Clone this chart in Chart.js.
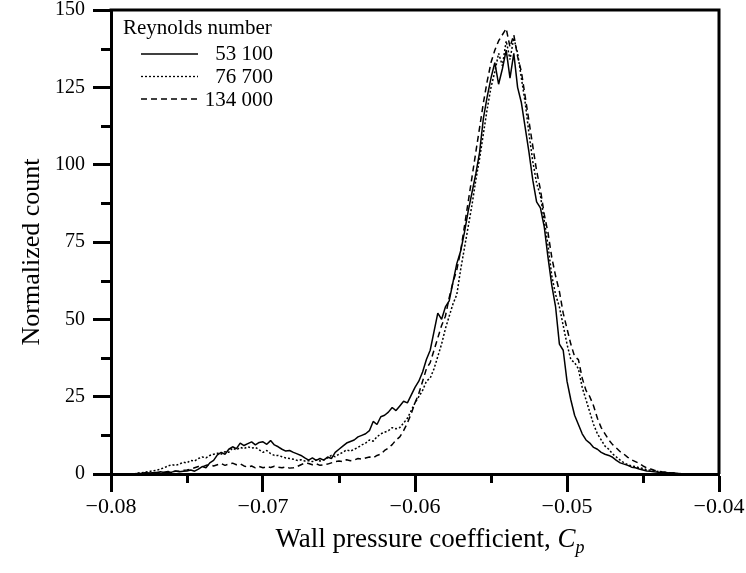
<!DOCTYPE html>
<html>
<head>
<meta charset="utf-8">
<title>Wall pressure coefficient histogram</title>
<script src="https://cdn.jsdelivr.net/npm/chart.js@4.4.1/dist/chart.umd.min.js"></script>
<style>
  html, body { margin: 0; padding: 0; background: #fff; }
  canvas { display: block; }
</style>
</head>
<body>
<canvas id="cp-chart" width="746" height="573"></canvas>
<script>
// ---- data ----
// bin centres of the Cp histogram
const cp = [
  -0.0785, -0.07825,
  -0.078, -0.07775, -0.0775, -0.07725,
  -0.077, -0.07675, -0.0765, -0.07625,
  -0.076, -0.07575, -0.0755, -0.07525,
  -0.075, -0.07475, -0.0745, -0.07425,
  -0.074, -0.07375, -0.0735, -0.07325,
  -0.073, -0.07275, -0.0725, -0.07225,
  -0.072, -0.07175, -0.0715, -0.07125,
  -0.071, -0.07075, -0.0705, -0.07025,
  -0.070, -0.06975, -0.0695, -0.06925,
  -0.069, -0.06875, -0.0685, -0.06825,
  -0.068, -0.06775, -0.0675, -0.06725,
  -0.067, -0.06675, -0.0665, -0.06625,
  -0.066, -0.06575, -0.0655, -0.06525,
  -0.065, -0.06475, -0.0645, -0.06425,
  -0.064, -0.06375, -0.0635, -0.06325,
  -0.063, -0.06275, -0.0625, -0.06225,
  -0.062, -0.06175, -0.0615, -0.06125,
  -0.061, -0.06075, -0.0605, -0.06025,
  -0.060, -0.05975, -0.0595, -0.05925,
  -0.059, -0.05875, -0.0585, -0.05825,
  -0.058, -0.05775, -0.0575, -0.05725,
  -0.057, -0.05675, -0.0565, -0.05625,
  -0.056, -0.05575, -0.0555, -0.05525,
  -0.055, -0.05475, -0.0545, -0.05425,
  -0.054, -0.05375, -0.0535, -0.05325,
  -0.053, -0.05275, -0.0525, -0.05225,
  -0.052, -0.05175, -0.0515, -0.05125,
  -0.051, -0.05075, -0.0505, -0.05025,
  -0.050, -0.04975, -0.0495, -0.04925,
  -0.049, -0.04875, -0.0485, -0.04825,
  -0.048, -0.04775, -0.0475, -0.04725,
  -0.047, -0.04675, -0.0465, -0.04625,
  -0.046, -0.04575, -0.0455, -0.04525,
  -0.045, -0.04475, -0.0445, -0.04425,
  -0.044, -0.04375, -0.0435, -0.04325,
  -0.043, -0.04275, -0.0425
];

// normalized counts, Re = 53 100
const count53100 = [
  0, 0.2,
  0.2, 0.4, 0.3, 0.4,
  0.4, 0.7, 0.5, 0.6,
  0.6, 1.0, 0.7, 0.9,
  1.0, 1.3, 0.9, 1.6,
  2.4, 2.0, 3.6, 4.4,
  6.2, 7.0, 6.4, 8.0,
  8.8, 8.2, 10.0, 9.2,
  9.8, 10.4, 9.4, 10.2,
  10.4, 9.6, 10.8, 9.4,
  8.8, 8.0, 7.4, 7.6,
  7.0, 6.5, 6.0, 5.2,
  4.5, 5.2, 4.4, 5.0,
  4.5, 5.5, 5.0, 7.0,
  8.0, 9.0, 10.0, 10.5,
  11, 12, 12.5, 13,
  14, 17, 16, 18.5,
  19, 20, 21.5, 20.5,
  22, 23.5, 23, 25.5,
  28, 30, 33, 37,
  40, 46, 52, 50,
  54, 56, 62, 68,
  72, 78, 85, 91,
  97, 104, 115, 122,
  128, 133, 126, 131,
  137, 128, 136, 125,
  120, 112, 104, 95,
  88, 86, 80, 70,
  61, 54, 42, 40,
  30, 24, 19, 16,
  13, 11, 10, 8.6,
  8, 7, 6.4, 6,
  5.4, 4.4, 3.6, 3.2,
  2.8, 2.2, 2.0, 1.6,
  1.3, 1.0, 0.9, 0.7,
  0.6, 0.4, 0.5, 0.3,
  0.3, 0.2, 0.1
];

// normalized counts, Re = 76 700
const count76700 = [
  0, 0.3,
  0.4, 0.6, 0.8, 1.0,
  1.2, 1.6, 2.0, 2.6,
  3.0, 2.8, 3.2, 3.8,
  3.6, 4.4, 4.2, 5.0,
  5.5, 5.2, 6.0, 6.4,
  6.7, 6.4, 7.2, 7.0,
  8.4, 7.8, 8.6, 8.2,
  8.8, 8.4, 8.6, 7.8,
  7.0, 7.6, 6.6, 6.0,
  6.0, 5.6, 5.2, 5.0,
  4.8, 4.4, 4.6, 4.2,
  4.3, 4.0, 4.5, 4.2,
  4.6, 5.2, 6.0, 5.6,
  6.4, 7.0, 7.8, 7.4,
  8.0, 8.6, 9.4, 10.0,
  11.0, 10.6, 12.0, 13.0,
  13.5, 14.0, 15.0, 14.6,
  15.0, 16.5, 18.0, 20.5,
  23, 25, 27, 30,
  31, 34, 38, 42,
  47, 51, 55, 58,
  66, 73, 80, 87,
  95, 102, 110, 118,
  125, 130, 136, 132,
  140, 134, 141, 136,
  128, 120, 110, 101,
  94, 90, 82, 74,
  64, 58, 54, 48,
  42, 37, 36, 34,
  28, 24, 20, 16,
  13, 11, 9, 8,
  6.5, 5.5, 4.5, 3.6,
  3.0, 2.6, 2.4, 2.0,
  1.8, 1.4, 1.2, 1.0,
  0.8, 0.6, 0.5, 0.4,
  0.3, 0.2, 0.1
];

// normalized counts, Re = 134 000
const count134000 = [
  0, 0.1,
  0.2, 0.3, 0.2, 0.4,
  0.5, 0.4, 0.6, 0.8,
  0.7, 0.9, 1.0, 1.2,
  1.3, 1.6, 2.0, 2.4,
  2.3, 2.8, 3.0, 2.6,
  3.0, 3.4, 2.8, 3.2,
  3.5, 3.0, 3.3, 2.6,
  2.2, 2.6, 2.0, 2.4,
  2.0, 2.4, 2.1, 2.5,
  2.2, 2.0, 2.3, 1.9,
  2.0, 2.4, 3.0, 3.5,
  3.4, 3.0, 3.3, 2.8,
  3.0, 3.2, 3.6, 4.0,
  4.2, 4.0, 4.6, 4.3,
  4.5, 5.0, 4.8, 5.2,
  5.5, 5.2, 6.0, 6.4,
  7.6, 8.4, 9.5, 11.0,
  12.0, 14.0, 16.5, 19.5,
  23, 26, 30, 34,
  36, 40, 44, 48,
  51, 57, 62, 66,
  72, 80, 88, 96,
  104, 112, 120, 127,
  133, 137, 140, 142,
  144, 138, 142, 135,
  130, 122, 114, 106,
  98, 92, 84, 78,
  70, 64, 59, 52,
  47, 42, 38, 37,
  31, 27, 25, 22,
  18, 15, 13, 11,
  9.5, 8.4, 7.2, 6.4,
  5.4, 4.6, 4.0, 3.4,
  2.6, 2.0, 1.6, 1.2,
  0.9, 0.7, 0.6, 0.4,
  0.3, 0.2, 0.1
];

const reynolds = ['53 100', '76 700', '134 000'];
const legendTitle = 'Reynolds number';
const yTitle = 'Normalized count';
const xTitle = 'Wall pressure coefficient, ';

// ---- helpers ----
const SERIF = '"Liberation Serif", "Times New Roman", serif';
const toPoints = (ys) => cp.map((x, i) => ({ x, y: ys[i] }));
const isMajorX = (v) => Math.round(v * 200) % 2 === 0;
const isMajorY = (v) => Math.round(v * 2) % 50 === 0;
const minus = (s) => s.replace('-', '\u2212');

Chart.defaults.font.family = SERIF;
Chart.defaults.color = '#000';

const dashes = [[], [2, 2], [6, 4]];
const seriesCounts = [count53100, count76700, count134000];

const datasets = seriesCounts.map((ys, i) => ({
  label: reynolds[i],
  data: toPoints(ys),
  borderColor: '#000',
  borderWidth: 1.5,
  borderDash: dashes[i],
  borderJoinStyle: 'bevel',
  pointRadius: 0,
  tension: 0,
  fill: false
}));

// frame, short minor ticks, legend and axis titles
const decorations = {
  id: 'decorations',
  afterDraw(chart) {
    const { ctx, chartArea: a, scales } = chart;
    ctx.save();
    ctx.strokeStyle = '#000';
    ctx.fillStyle = '#000';

    // top and right frame edges
    ctx.lineWidth = 3;
    ctx.beginPath();
    ctx.moveTo(a.left - 1.5, a.top);
    ctx.lineTo(a.right, a.top);
    ctx.lineTo(a.right, a.bottom);
    ctx.stroke();

    // minor ticks
    ctx.lineWidth = 3;
    scales.x.ticks.forEach(t => {
      if (isMajorX(t.value)) return;
      const px = Math.round(scales.x.getPixelForValue(t.value)) + 0.5;
      ctx.beginPath();
      ctx.moveTo(px, a.bottom);
      ctx.lineTo(px, a.bottom + 9);
      ctx.stroke();
    });
    scales.y.ticks.forEach(t => {
      if (isMajorY(t.value)) return;
      const py = Math.round(scales.y.getPixelForValue(t.value)) + 0.5;
      ctx.beginPath();
      ctx.moveTo(a.left, py);
      ctx.lineTo(a.left - 10, py);
      ctx.stroke();
    });

    // legend
    ctx.font = '21px ' + SERIF;
    ctx.textBaseline = 'alphabetic';
    ctx.textAlign = 'left';
    ctx.fillText(legendTitle, a.left + 12, a.top + 24);
    chart.data.datasets.forEach((ds, i) => {
      const ly = a.top + 44 + i * 22.5;
      ctx.lineWidth = 1.3;
      ctx.setLineDash(ds.borderDash);
      ctx.beginPath();
      ctx.moveTo(a.left + 30, ly);
      ctx.lineTo(a.left + 87, ly);
      ctx.stroke();
      ctx.setLineDash([]);
      ctx.textAlign = 'right';
      ctx.fillText(ds.label, a.left + 162, a.top + 50 + i * 23);
    });

    // y title
    ctx.font = '26px ' + SERIF;
    ctx.save();
    ctx.translate(39, (a.top + a.bottom) / 2 + 10);
    ctx.rotate(-Math.PI / 2);
    ctx.textAlign = 'center';
    ctx.fillText(yTitle, 0, 0);
    ctx.restore();

    // x title with italic C and subscript p
    ctx.textAlign = 'left';
    ctx.font = '27px ' + SERIF;
    const w1 = ctx.measureText(xTitle).width;
    ctx.font = 'italic 27px ' + SERIF;
    const w2 = ctx.measureText('C').width;
    ctx.font = 'italic 18px ' + SERIF;
    const w3 = ctx.measureText('p').width;
    const total = w1 + w2 + w3;
    const x0 = (a.left + a.right) / 2 + 15 - total / 2;
    const by = a.bottom + 73;
    ctx.font = '27px ' + SERIF;
    ctx.fillText(xTitle, x0, by);
    ctx.font = 'italic 27px ' + SERIF;
    ctx.fillText('C', x0 + w1, by);
    ctx.font = 'italic 18px ' + SERIF;
    ctx.fillText('p', x0 + w1 + w2, by + 6);
    ctx.restore();
  }
};

new Chart(document.getElementById('cp-chart'), {
  type: 'line',
  data: { datasets },
  options: {
    responsive: false,
    animation: false,
    devicePixelRatio: 1,
    layout: { padding: { top: 10, right: 27, left: 0, bottom: 0 } },
    plugins: {
      legend: { display: false },
      tooltip: { enabled: false }
    },
    scales: {
      x: {
        type: 'linear',
        min: -0.08,
        max: -0.04,
        afterFit: (s) => { s.height = 99; s.paddingLeft = 0; s.paddingRight = 0; },
        border: { display: true, width: 3, color: '#000' },
        grid: {
          drawOnChartArea: false,
          drawTicks: true,
          tickLength: 18,
          tickWidth: 3,
          tickColor: (c) => (c.tick && isMajorX(c.tick.value) ? '#000' : 'rgba(0,0,0,0)')
        },
        ticks: {
          stepSize: 0.005,
          autoSkip: false,
          maxRotation: 0,
          padding: 2,
          font: { size: 22 },
          callback: (v) => (isMajorX(v) ? minus(v.toFixed(2)) : '')
        }
      },
      y: {
        min: 0,
        max: 150,
        afterFit: (s) => { s.width = 111; s.paddingTop = 0; s.paddingBottom = 0; },
        border: { display: true, width: 3, color: '#000' },
        grid: {
          drawOnChartArea: false,
          drawTicks: true,
          tickLength: 18,
          tickWidth: 3,
          tickColor: (c) => (c.tick && isMajorY(c.tick.value) ? '#000' : 'rgba(0,0,0,0)')
        },
        ticks: {
          stepSize: 12.5,
          autoSkip: false,
          padding: 8,
          font: { size: 20 },
          callback: (v) => (isMajorY(v) ? String(v) : '')
        }
      }
    }
  },
  plugins: [decorations]
});
</script>
</body>
</html>
